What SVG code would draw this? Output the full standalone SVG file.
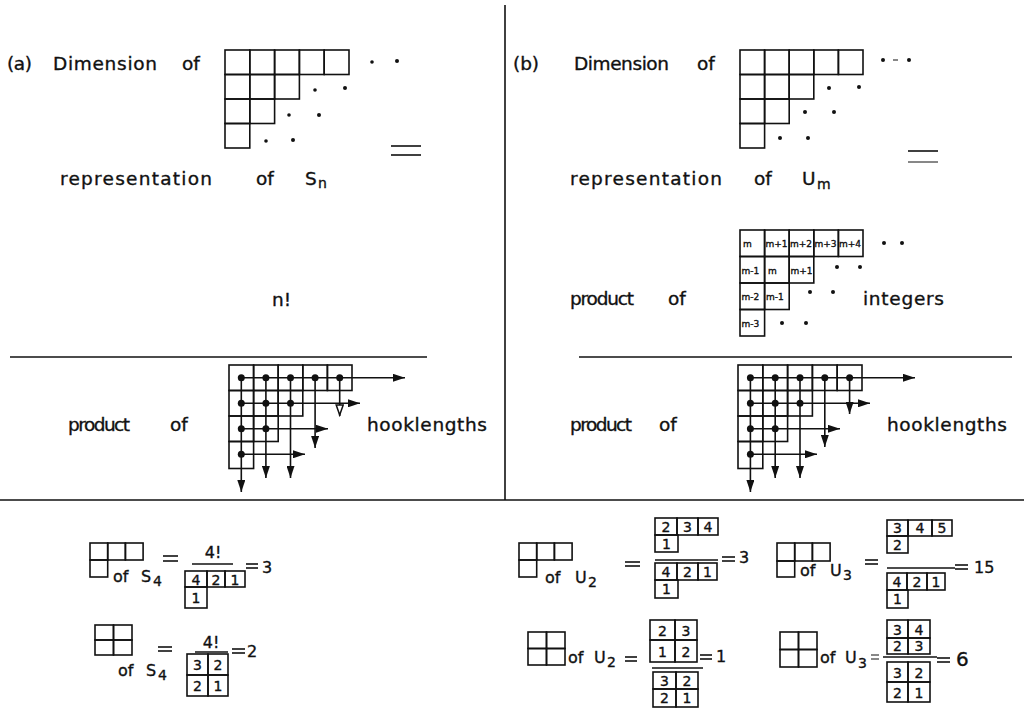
<svg xmlns="http://www.w3.org/2000/svg" width="1024" height="710" viewBox="0 0 1024 710">
<style>
text{font-family:"DejaVu Sans","Liberation Sans",Arial,sans-serif;fill:#111;stroke:#111;stroke-width:0.35}
.lb{font-size:18.5px}
.sub{font-size:14px}
.sm{font-size:16px}
.dg{font-size:14px;text-anchor:middle}
.cl{font-size:9px;stroke-width:0.15}
.g{fill:none;stroke:#111;stroke-width:1.6}
.ln{stroke:#111;stroke-width:1.6;fill:none}
.thin{stroke:#111;stroke-width:1;fill:none}
.ar{stroke:#111;stroke-width:1.6;fill:none;marker-end:url(#ah)}
.aro{stroke:#111;stroke-width:1.6;fill:none;marker-end:url(#aho)}
.d{fill:#111}
</style>
<defs>
<marker id="ah" markerWidth="13" markerHeight="8" refX="12" refY="4" orient="auto" markerUnits="userSpaceOnUse"><path d="M0,0 L12,4 L0,8 z" fill="#111"/></marker>
<marker id="aho" markerWidth="13" markerHeight="9" refX="12" refY="4.5" orient="auto" markerUnits="userSpaceOnUse"><path d="M1,1 L11,4.5 L1,8 z" fill="#fff" stroke="#111" stroke-width="1.5"/></marker>
</defs>
<rect width="1024" height="710" fill="#fff"/>

<g id="frame">
<line class="ln" x1="505" y1="5" x2="505" y2="500"/>
<line class="ln" x1="0" y1="500" x2="1024" y2="500"/>
<line class="ln" x1="10" y1="357" x2="427" y2="357"/>
<line class="ln" x1="579" y1="357" x2="1012" y2="357"/>
</g>

<!-- Panel (a) -->
<g id="a-dimension">
<text class="lb" x="7" y="70" textLength="25">(a)</text>
<text class="lb" x="53" y="70" textLength="104">Dimension</text>
<text class="lb" x="182" y="70">of</text>
<g class="g">
<rect x="225" y="50" width="24.8" height="24.5"/><rect x="249.8" y="50" width="24.8" height="24.5"/><rect x="274.6" y="50" width="24.8" height="24.5"/><rect x="299.4" y="50" width="24.8" height="24.5"/><rect x="324.2" y="50" width="24.8" height="24.5"/>
<rect x="225" y="74.5" width="24.8" height="24.5"/><rect x="249.8" y="74.5" width="24.8" height="24.5"/><rect x="274.6" y="74.5" width="24.8" height="24.5"/>
<rect x="225" y="99" width="24.8" height="24.5"/><rect x="249.8" y="99" width="24.8" height="24.5"/>
<rect x="225" y="123.5" width="24.8" height="24.5"/>
</g>
<g class="d">
<circle cx="372" cy="62" r="1.8"/><circle cx="397" cy="61" r="2"/>
<circle cx="315" cy="90" r="1.8"/><circle cx="345" cy="88" r="2"/>
<circle cx="289" cy="115" r="1.8"/><circle cx="319" cy="115" r="2"/>
<circle cx="266" cy="141" r="1.8"/><circle cx="293" cy="140" r="2"/>
</g>
<line class="ln" x1="391" y1="146" x2="421" y2="146"/>
<line class="ln" x1="391" y1="155" x2="421" y2="155"/>
<text class="lb" x="60" y="185" textLength="152">representation</text>
<text class="lb" x="256" y="185">of</text>
<text class="lb" x="305" y="185">S</text>
<text class="sub" x="318" y="188">n</text>
</g>

<g id="a-nfact">
<text class="lb" x="272" y="306">n!</text>
</g>

<g id="a-hook">
<text class="lb" x="68" y="431" textLength="62">product</text>
<text class="lb" x="170" y="431">of</text>
<text class="lb" x="367" y="431" textLength="120">hooklengths</text>
<g class="g">
<rect x="229" y="365" width="24.6" height="25.5"/><rect x="253.6" y="365" width="24.6" height="25.5"/><rect x="278.2" y="365" width="24.6" height="25.5"/><rect x="302.8" y="365" width="24.6" height="25.5"/><rect x="327.4" y="365" width="24.6" height="25.5"/>
<rect x="229" y="390.5" width="24.6" height="25.5"/><rect x="253.6" y="390.5" width="24.6" height="25.5"/><rect x="278.2" y="390.5" width="24.6" height="25.5"/>
<rect x="229" y="416" width="24.6" height="25.5"/><rect x="253.6" y="416" width="24.6" height="25.5"/>
<rect x="229" y="441.5" width="24.6" height="27"/>
</g>
</g>

<!-- Panel (b) -->
<g id="b-dimension">
<text class="lb" x="513" y="70" textLength="26">(b)</text>
<text class="lb" x="574" y="70" textLength="95">Dimension</text>
<text class="lb" x="697" y="70">of</text>
<g class="g">
<rect x="740" y="50" width="24.6" height="24.5"/><rect x="764.6" y="50" width="24.6" height="24.5"/><rect x="789.2" y="50" width="24.6" height="24.5"/><rect x="813.8" y="50" width="24.6" height="24.5"/><rect x="838.4" y="50" width="24.6" height="24.5"/>
<rect x="740" y="74.5" width="24.6" height="24.5"/><rect x="764.6" y="74.5" width="24.6" height="24.5"/><rect x="789.2" y="74.5" width="24.6" height="24.5"/>
<rect x="740" y="99" width="24.6" height="24.5"/><rect x="764.6" y="99" width="24.6" height="24.5"/>
<rect x="740" y="123.5" width="24.6" height="24.5"/>
</g>
<g class="d">
<circle cx="883" cy="60" r="2"/><circle cx="909" cy="60" r="2"/>
<circle cx="829" cy="88" r="2"/><circle cx="859" cy="87" r="2"/>
<circle cx="805" cy="112" r="2"/><circle cx="834" cy="112" r="2"/>
<circle cx="780" cy="138" r="2"/><circle cx="808" cy="138" r="2"/>
</g>
<line class="thin" x1="893" y1="60" x2="898" y2="60"/>
<line class="ln" x1="908" y1="151" x2="938" y2="151"/>
<line class="thin" x1="908" y1="162" x2="938" y2="162"/>
<text class="lb" x="570" y="185" textLength="152">representation</text>
<text class="lb" x="754" y="185">of</text>
<text class="lb" x="802" y="185">U</text>
<text class="sub" x="817" y="189">m</text>
</g>

<g id="b-integers">
<text class="lb" x="570" y="305" textLength="64">product</text>
<text class="lb" x="668" y="305">of</text>
<text class="lb" x="863" y="305" textLength="81">integers</text>
<g class="g">
<rect x="740" y="230" width="24.6" height="26.5"/><rect x="764.6" y="230" width="24.6" height="26.5"/><rect x="789.2" y="230" width="24.6" height="26.5"/><rect x="813.8" y="230" width="24.6" height="26.5"/><rect x="838.4" y="230" width="24.6" height="26.5"/>
<rect x="740" y="256.5" width="24.6" height="26.5"/><rect x="764.6" y="256.5" width="24.6" height="26.5"/><rect x="789.2" y="256.5" width="24.6" height="26.5"/>
<rect x="740" y="283" width="24.6" height="26.5"/><rect x="764.6" y="283" width="24.6" height="26.5"/>
<rect x="740" y="309.5" width="24.6" height="26.5"/>
</g>
<g class="cl">
<text x="743" y="247">m</text><text x="765.5" y="247">m+1</text><text x="790" y="247">m+2</text><text x="814.5" y="247">m+3</text><text x="839" y="247">m+4</text>
<text x="741.5" y="274">m-1</text><text x="768" y="274">m</text><text x="790.5" y="274">m+1</text>
<text x="741.5" y="300">m-2</text><text x="766" y="300">m-1</text>
<text x="741.5" y="327">m-3</text>
</g>
<g class="d">
<circle cx="884" cy="243" r="2"/><circle cx="902" cy="243" r="2"/>
<circle cx="837" cy="267" r="2"/><circle cx="860" cy="267" r="2"/>
<circle cx="810" cy="292" r="2"/><circle cx="833" cy="292" r="2"/>
<circle cx="782" cy="323" r="2"/><circle cx="806" cy="323" r="2"/>
</g>
</g>

<g id="b-hook">
<text class="lb" x="570" y="431" textLength="62">product</text>
<text class="lb" x="659" y="431">of</text>
<text class="lb" x="887" y="431" textLength="120">hooklengths</text>
<g class="g">
<rect x="738" y="365" width="24.8" height="25.5"/><rect x="762.8" y="365" width="24.8" height="25.5"/><rect x="787.6" y="365" width="24.8" height="25.5"/><rect x="812.4" y="365" width="24.8" height="25.5"/><rect x="837.2" y="365" width="24.8" height="25.5"/>
<rect x="738" y="390.5" width="24.8" height="25.5"/><rect x="762.8" y="390.5" width="24.8" height="25.5"/><rect x="787.6" y="390.5" width="24.8" height="25.5"/>
<rect x="738" y="416" width="24.8" height="25.5"/><rect x="762.8" y="416" width="24.8" height="25.5"/>
<rect x="738" y="441.5" width="24.8" height="27"/>
</g>
</g>

<!-- Connectors: hook arms and legs -->
<g id="connectors">
<path class="ar" d="M241.3,377.8 H405"/>
<path class="ar" d="M241.3,403.3 H360"/>
<path class="ar" d="M241.3,428.8 H328"/>
<path class="ar" d="M241.3,454.3 H305"/>
<path class="ar" d="M241.3,377.8 V492"/>
<path class="ar" d="M265.9,377.8 V478"/>
<path class="ar" d="M290.5,377.8 V478"/>
<path class="ar" d="M315.1,377.8 V448"/>
<path class="aro" d="M339.7,377.8 V416"/>
<path class="ar" d="M750.4,377.8 H915"/>
<path class="ar" d="M750.4,403.3 H870"/>
<path class="ar" d="M750.4,428.8 H840"/>
<path class="ar" d="M750.4,454.3 H817"/>
<path class="ar" d="M750.4,377.8 V492"/>
<path class="ar" d="M775.2,377.8 V478"/>
<path class="ar" d="M800,377.8 V478"/>
<path class="ar" d="M824.8,377.8 V447"/>
<path class="ar" d="M849.6,377.8 V414"/>
</g>
<g id="hook-dots" class="d">
<circle cx="241.3" cy="377.8" r="3.5"/><circle cx="265.9" cy="377.8" r="3.5"/><circle cx="290.5" cy="377.8" r="3.5"/><circle cx="315.1" cy="377.8" r="3.5"/><circle cx="339.7" cy="377.8" r="3.5"/>
<circle cx="241.3" cy="403.3" r="3.5"/><circle cx="265.9" cy="403.3" r="3.5"/><circle cx="290.5" cy="403.3" r="3.5"/>
<circle cx="241.3" cy="428.8" r="3.5"/><circle cx="265.9" cy="428.8" r="3.5"/>
<circle cx="241.3" cy="454.3" r="3.5"/>
<circle cx="750.4" cy="377.8" r="3.5"/><circle cx="775.2" cy="377.8" r="3.5"/><circle cx="800" cy="377.8" r="3.5"/><circle cx="824.8" cy="377.8" r="3.5"/><circle cx="849.6" cy="377.8" r="3.5"/>
<circle cx="750.4" cy="403.3" r="3.5"/><circle cx="775.2" cy="403.3" r="3.5"/><circle cx="800" cy="403.3" r="3.5"/>
<circle cx="750.4" cy="428.8" r="3.5"/><circle cx="775.2" cy="428.8" r="3.5"/>
<circle cx="750.4" cy="454.3" r="3.5"/>
</g>

<!-- Bottom examples -->
<g id="eq-a1">
<g class="g"><rect x="90" y="543" width="17.7" height="17"/><rect x="107.7" y="543" width="17.7" height="17"/><rect x="125.4" y="543" width="17.7" height="17"/><rect x="90" y="560" width="17.7" height="17"/></g>
<text class="sm" x="113" y="582">of</text><text class="sm" x="141" y="582">S</text><text class="sub" x="153" y="586">4</text>
<line class="ln" x1="163" y1="556" x2="178" y2="556"/><line class="ln" x1="163" y1="561" x2="178" y2="561"/>
<text class="sm" x="213" y="558" text-anchor="middle">4!</text>
<line class="ln" x1="192" y1="564" x2="233" y2="564"/>
<g class="g"><rect x="185" y="571" width="22" height="16"/><rect x="207" y="571" width="18" height="16"/><rect x="225" y="571" width="20" height="16"/><rect x="185" y="587" width="22" height="21"/></g>
<g class="dg"><text x="196" y="585">4</text><text x="216" y="585">2</text><text x="235" y="585">1</text><text x="196" y="603">1</text></g>
<line class="ln" x1="246" y1="564" x2="258" y2="564"/><line class="ln" x1="246" y1="568" x2="258" y2="568"/>
<text class="sm" x="262" y="573">3</text>
</g>

<g id="eq-a2">
<g class="g"><rect x="95" y="625" width="18.5" height="15"/><rect x="113.5" y="625" width="18.5" height="15"/><rect x="95" y="640" width="18.5" height="15"/><rect x="113.5" y="640" width="18.5" height="15"/></g>
<line class="ln" x1="158" y1="647" x2="172" y2="647"/><line class="ln" x1="158" y1="651" x2="172" y2="651"/>
<text class="sm" x="118" y="676">of</text><text class="sm" x="146" y="676">S</text><text class="sub" x="158" y="680">4</text>
<text class="sm" x="211" y="648" text-anchor="middle">4!</text>
<line class="ln" x1="195" y1="652" x2="228" y2="652"/>
<g class="g"><rect x="187" y="654" width="21" height="21"/><rect x="208" y="654" width="20" height="21"/><rect x="187" y="675" width="21" height="21"/><rect x="208" y="675" width="20" height="21"/></g>
<g class="dg"><text x="197.5" y="670">3</text><text x="218" y="670">2</text><text x="197.5" y="691">2</text><text x="218" y="691">1</text></g>
<line class="ln" x1="232" y1="649" x2="245" y2="649"/><line class="ln" x1="232" y1="653" x2="245" y2="653"/>
<text class="sm" x="247" y="657">2</text>
</g>

<g id="eq-b1">
<g class="g"><rect x="519" y="543" width="17.7" height="17"/><rect x="536.7" y="543" width="17.7" height="17"/><rect x="554.4" y="543" width="17.7" height="17"/><rect x="519" y="560" width="17.7" height="17"/></g>
<text class="sm" x="545" y="583">of</text><text class="sm" x="575" y="583">U</text><text class="sub" x="588" y="587">2</text>
<line class="ln" x1="625" y1="562" x2="640" y2="562"/><line class="ln" x1="625" y1="566" x2="640" y2="566"/>
<g class="g"><rect x="655" y="518" width="22" height="17"/><rect x="677" y="518" width="21" height="17"/><rect x="698" y="518" width="20" height="17"/><rect x="655" y="535" width="23" height="17"/></g>
<g class="dg"><text x="666" y="532">2</text><text x="687.5" y="532">3</text><text x="708" y="532">4</text><text x="666.5" y="549">1</text></g>
<line class="ln" x1="655" y1="560" x2="718" y2="560"/>
<g class="g"><rect x="655" y="563" width="22" height="17"/><rect x="677" y="563" width="21" height="17"/><rect x="698" y="563" width="19" height="17"/><rect x="655" y="580" width="23" height="18"/></g>
<g class="dg"><text x="666" y="577">4</text><text x="687.5" y="577">2</text><text x="707.5" y="577">1</text><text x="666.5" y="594">1</text></g>
<line class="ln" x1="722" y1="557" x2="735" y2="557"/><line class="ln" x1="722" y1="561" x2="735" y2="561"/>
<text class="sm" x="739" y="563">3</text>
</g>

<g id="eq-b2">
<g class="g"><rect x="528" y="632" width="18.5" height="16.5"/><rect x="546.5" y="632" width="18.5" height="16.5"/><rect x="528" y="648.5" width="18.5" height="16.5"/><rect x="546.5" y="648.5" width="18.5" height="16.5"/></g>
<text class="sm" x="568" y="663">of</text><text class="sm" x="594" y="663">U</text><text class="sub" x="607" y="667">2</text>
<line class="ln" x1="625" y1="657" x2="637" y2="657"/><line class="ln" x1="625" y1="661" x2="637" y2="661"/>
<g class="g"><rect x="650" y="620" width="25" height="20"/><rect x="675" y="620" width="22" height="20"/><rect x="650" y="640" width="25" height="22"/><rect x="675" y="640" width="22" height="22"/></g>
<g class="dg"><text x="662.5" y="636">2</text><text x="686" y="636">3</text><text x="662.5" y="657">1</text><text x="686" y="657">2</text></g>
<line class="ln" x1="700" y1="655" x2="712" y2="655"/><line class="ln" x1="700" y1="659" x2="712" y2="659"/>
<text class="sm" x="716" y="662">1</text>
<line class="ln" x1="652" y1="668" x2="703" y2="668"/>
<g class="g"><rect x="653" y="672" width="23" height="17"/><rect x="676" y="672" width="22" height="17"/><rect x="653" y="689" width="23" height="18"/><rect x="676" y="689" width="22" height="18"/></g>
<g class="dg"><text x="664.5" y="686">3</text><text x="687" y="686">2</text><text x="664.5" y="703">2</text><text x="687" y="703">1</text></g>
</g>

<g id="eq-b3">
<g class="g"><rect x="777" y="543" width="17.7" height="18"/><rect x="794.7" y="543" width="17.7" height="18"/><rect x="812.4" y="543" width="17.7" height="18"/><rect x="777" y="561" width="17.7" height="16"/></g>
<text class="sm" x="800" y="576">of</text><text class="sm" x="830" y="576">U</text><text class="sub" x="843" y="580">3</text>
<line class="ln" x1="865" y1="560" x2="878" y2="560"/><line class="ln" x1="865" y1="564" x2="878" y2="564"/>
<g class="g"><rect x="887" y="520" width="21" height="16"/><rect x="908" y="520" width="24" height="16"/><rect x="932" y="520" width="20" height="16"/><rect x="887" y="536" width="21" height="17"/></g>
<g class="dg"><text x="897.5" y="533">3</text><text x="920" y="533">4</text><text x="942" y="533">5</text><text x="897.5" y="550">2</text></g>
<line class="ln" x1="887" y1="568" x2="955" y2="568"/>
<g class="g"><rect x="887" y="573" width="20" height="17"/><rect x="907" y="573" width="20" height="17"/><rect x="927" y="573" width="18" height="17"/><rect x="887" y="590" width="21" height="18"/></g>
<g class="dg"><text x="897" y="587">4</text><text x="917" y="587">2</text><text x="936" y="587">1</text><text x="897.5" y="604">1</text></g>
<line class="ln" x1="955" y1="565" x2="968" y2="565"/><line class="ln" x1="955" y1="569" x2="968" y2="569"/>
<text class="sm" x="974" y="573">15</text>
</g>

<g id="eq-b4">
<g class="g"><rect x="780" y="632" width="18.5" height="17.5"/><rect x="798.5" y="632" width="18.5" height="17.5"/><rect x="780" y="649.5" width="18.5" height="17.5"/><rect x="798.5" y="649.5" width="18.5" height="17.5"/></g>
<text class="sm" x="820" y="663">of</text><text class="sm" x="845" y="663">U</text><text class="sub" x="858" y="668">3</text>
<line class="thin" x1="871" y1="655" x2="879" y2="655"/><line class="thin" x1="871" y1="659" x2="879" y2="659"/>
<g class="g"><rect x="887" y="620" width="21" height="18"/><rect x="908" y="620" width="22" height="18"/><rect x="887" y="638" width="21" height="16"/><rect x="908" y="638" width="22" height="16"/></g>
<g class="dg"><text x="897.5" y="635">3</text><text x="919" y="635">4</text><text x="897.5" y="651">2</text><text x="919" y="651">3</text></g>
<line class="ln" x1="883" y1="657" x2="937" y2="657"/>
<g class="g"><rect x="887" y="662" width="21" height="20"/><rect x="908" y="662" width="22" height="20"/><rect x="887" y="682" width="21" height="20"/><rect x="908" y="682" width="22" height="20"/></g>
<g class="dg"><text x="897.5" y="678">3</text><text x="919" y="678">2</text><text x="897.5" y="698">2</text><text x="919" y="698">1</text></g>
<line class="ln" x1="937" y1="658" x2="950" y2="658"/><line class="ln" x1="937" y1="662" x2="950" y2="662"/>
<text x="956" y="666" font-size="20">6</text>
</g>
</svg>
